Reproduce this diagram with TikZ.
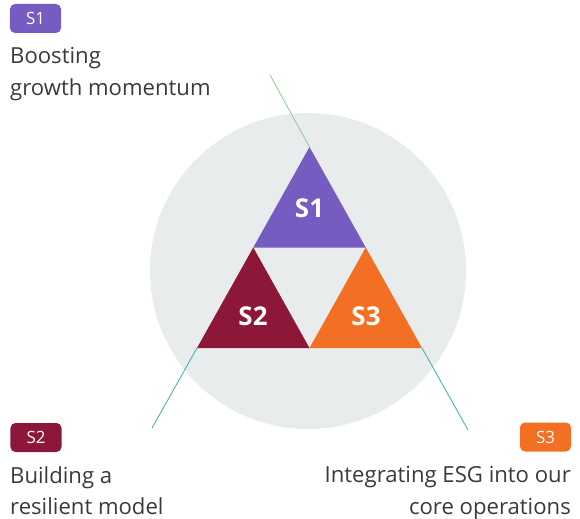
\documentclass[tikz,border=0pt]{standalone}
\usepackage{fontspec}
\setmainfont{Open Sans}
\definecolor{sonepurple}{HTML}{765BC0}
\definecolor{stwored}{HTML}{8C1738}
\definecolor{sthreeorange}{HTML}{F26F23}
\definecolor{discgray}{HTML}{E9ECED}
\definecolor{linegreen}{HTML}{8ED19A}
\definecolor{lineteal}{HTML}{4DB3B5}
\definecolor{textgray}{HTML}{3A3A3A}
\tikzset{
  badge/.style={rounded corners=5bp, minimum width=51bp, minimum height=29bp, inner sep=0pt, text=white, font=\fontsize{17}{19}\selectfont},
  goal/.style={inner sep=0pt, text=textgray, font=\fontsize{22.2}{32}\selectfont},
  trilabel/.style={text=white, inner sep=0pt, font=\fontsize{26}{28}\selectfont\bfseries}
}
\begin{document}
\begin{tikzpicture}[x=1bp,y=-1bp]
      \useasboundingbox (0,0) rectangle (580,519);
      \fill[discgray] (308,271) circle (158bp);
      % corners of the big triangle
      \coordinate (T) at (309.5,147);
      \coordinate (L) at (197,348);
      \coordinate (R) at (422,348);
      \coordinate (TL) at (253.25,247.5);
      \coordinate (TR) at (365.75,247.5);
      \coordinate (B) at (309.5,348);
      % free ends of the guide lines
      \coordinate (endtop) at (270,75);
      \coordinate (endleft) at (152,428);
      \coordinate (endright) at (468,430);
      \draw[linegreen, line width=0.9bp] (endtop) -- (T);
      \draw[lineteal, line width=0.9bp] (L) -- (endleft);
      \draw[lineteal, line width=0.9bp] (R) -- (endright);
      \fill[sonepurple] (T) -- (TL) -- (TR) -- cycle;
      \fill[stwored] (TL) -- (L) -- (B) -- cycle;
      \fill[sthreeorange] (TR) -- (B) -- (R) -- cycle;
      \node[trilabel] (tone) at (309.5,208) {S1};
      \node[trilabel] (ttwo) at (253,316) {S2};
      \node[trilabel] (tthree) at (366,316) {S3};
      \node[badge, fill=sonepurple] (bone) at (35.5,18.5) {S1};
      \node[badge, fill=stwored] (btwo) at (36,437.5) {S2};
      \node[badge, fill=sthreeorange] (bthree) at (545.5,437) {S3};
      \node[goal, anchor=north west, align=left] (gone) at (10,47) {Boosting\\growth momentum};
      \node[goal, anchor=north west, align=left] (gtwo) at (10,466) {Building a\\resilient model};
      \node[goal, anchor=north east, align=right] (gthree) at (571,466) {Integrating ESG into our\\core operations};
\end{tikzpicture}
\end{document}
